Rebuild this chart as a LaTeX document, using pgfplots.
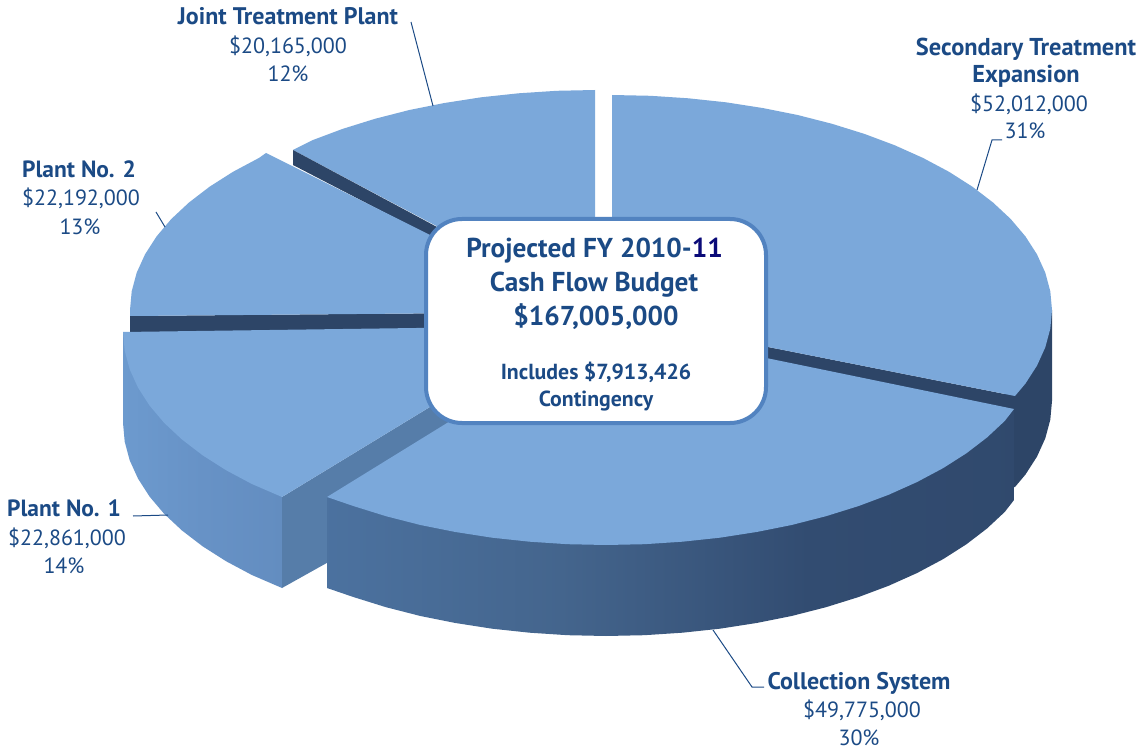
\documentclass[border=0pt]{standalone}
\usepackage{fontspec}
\setmainfont{PT Sans}
\usepackage{pgfplots}
\pgfplotsset{compat=1.18}
\definecolor{topc}{HTML}{7BA8DA}
\definecolor{dark}{HTML}{2D4567}
\definecolor{cutc}{HTML}{567DA9}
\definecolor{txt}{HTML}{1B4A85}
\definecolor{boxb}{HTML}{5283C0}
\definecolor{navy11}{HTML}{0A0A78}
\definecolor{wa}{HTML}{5C88BE}
\definecolor{wb}{HTML}{5079AA}
\definecolor{wc}{HTML}{44658D}
\definecolor{wd}{HTML}{324C71}
\definecolor{pa}{HTML}{72A2D6}
\definecolor{pb}{HTML}{6792C6}
\definecolor{pc}{HTML}{5F88BA}
\pgfdeclarehorizontalshading{wallC}{100bp}{color(0bp)=(wa);color(15bp)=(wb);color(42bp)=(wc);color(60bp)=(wd);color(100bp)=(dark)}
\pgfdeclarehorizontalshading{wallP}{100bp}{color(0bp)=(pa);color(50bp)=(pb);color(100bp)=(pc)}
\newcommand{\lab}[4]{\node[anchor=base,text=txt,font=\fontsize{#1}{#1}\selectfont] at (axis cs:#2,#3) {#4};}
\begin{document}
\begin{tikzpicture}
\begin{axis}[
  width=1146pt,height=751pt,scale only axis,
  xmin=0,xmax=1146,ymin=0,ymax=751,y dir=reverse,
  axis lines=none,clip=false,no markers]
\path (axis cs:0,0) rectangle (axis cs:1146,751);
% Joint Treatment Plant
\addplot[fill=topc,draw=none] coordinates {(293,150)(312.2,140.3)(342.6,128.9)(375,118.8)(409,110.1)(444.5,103)(481.1,97.3)(518.6,93.3)(556.7,90.8)(595,90)(595,310)} -- cycle;
\addplot[fill=dark,draw=none] coordinates {(293,150)(480,250)(480,262)(293,165)} -- cycle;
% Plant No. 2
\addplot[fill=dark,draw=none] coordinates {(130,316)(470,313)(470,328)(130,333)} -- cycle;
\addplot[fill=topc,draw=none] coordinates {(130,316)(130,310)(131.7,291.3)(136.7,272.7)(145,254.4)(156.5,236.5)(171.2,219.1)(189,202.5)(209.6,186.7)(233,171.8)(258.9,158)(266,153)(470,255)(470,313)} -- cycle;
% Plant No. 1
\addplot[shade,shading=wallP,draw=none] coordinates {(123,332)(123,423)(124.7,441.7)(129.7,460.3)(138,478.6)(149.5,496.5)(164.2,513.9)(182,530.5)(202.6,546.3)(226,561.2)(251.9,575)(282,588)(282,497)} -- cycle;
\addplot[fill=cutc,draw=none] coordinates {(282,497)(282,588)(350,550)(350,495)(600,340)(563,326)} -- cycle;
\addplot[fill=topc,draw=none] coordinates {(123,332)(124.7,350.7)(129.7,369.3)(138,387.6)(149.5,405.5)(164.2,422.9)(182,439.5)(202.6,455.3)(226,470.2)(251.9,484)(282,497)(563,326)} -- cycle;
% Secondary wall and cut
\addplot[fill=dark,draw=none] coordinates {(1052,310)(1052,401)(1050.3,419.7)(1045.3,438.3)(1037,456.6)(1025.5,474.5)(1015,487)(1005,487)(1005,396)} -- cycle;
\addplot[fill=dark,draw=none] coordinates {(612,316)(1015,396)(1015,410)(612,330)} -- cycle;
% Collection System
\addplot[shade,shading=wallC,draw=none] coordinates {(327,497)(327,588)(353.6,597.1)(386,607.2)(420,615.9)(455.5,623)(492.1,628.7)(529.6,632.7)(567.6,635.2)(606,636)(644.4,635.2)(682.4,632.7)(719.9,628.7)(756.5,623)(792,615.9)(826,607.2)(858.4,597.1)(888.8,585.7)(917.1,573)(943,559.2)(966.4,544.3)(987,528.5)(1004.8,511.9)(1014,500)(1014,409)} -- cycle;
\addplot[fill=topc,draw=none] coordinates {(1014,409)(1004.8,420.9)(987,437.5)(966.4,453.3)(943,468.2)(917.1,482)(888.8,494.7)(858.4,506.1)(826,516.2)(792,524.9)(756.5,532)(719.9,537.7)(682.4,541.7)(644.4,544.2)(606,545)(567.6,544.2)(529.6,541.7)(492.1,537.7)(455.5,532)(420,524.9)(386,516.2)(353.6,506.1)(327,497)(606,325)} -- cycle;
% Secondary top
\addplot[fill=topc,draw=none] coordinates {(612,95)(650.4,95.8)(688.4,98.3)(725.9,102.3)(762.5,108)(798,115.1)(832,123.8)(864.4,133.9)(894.8,145.3)(923.1,158)(949,171.8)(972.4,186.7)(993,202.5)(1010.8,219.1)(1025.5,236.5)(1037,254.4)(1045.3,272.7)(1050.3,291.3)(1052,310)(1050.3,328.7)(1045.3,347.3)(1037,365.6)(1025.5,383.5)(1015,396)(612,316)} -- cycle;
% Leader lines
\addplot[txt,line width=1pt] coordinates {(411,22)(433,106)};
\addplot[txt,line width=1pt] coordinates {(1002,140)(992,140)(977,190)};
\addplot[txt,line width=1pt] coordinates {(156,212)(165,227)};
\addplot[txt,line width=1pt] coordinates {(133,516)(168,515)};
\addplot[txt,line width=1pt] coordinates {(713,630)(752,687)(764,687)};
% Centre box
\draw[boxb,line width=4pt,fill=white,rounded corners=36pt] (axis cs:426,219) rectangle (axis cs:766,423);
\lab{27.3}{594.5}{258}{\bfseries Projected FY 2010-{\color{navy11}11}}
\lab{27.3}{594}{292}{\bfseries Cash Flow Budget}
\lab{27.3}{596}{326}{\bfseries \$167,005,000}
\lab{21.8}{596}{379}{\bfseries Includes \$7,913,426}
\lab{21.8}{596}{406}{\bfseries Contingency}
% Labels
\lab{24}{288}{25}{\bfseries Joint Treatment Plant}
\lab{22}{288}{54}{\$20,165,000}
\lab{22}{288}{82}{12\%}
\lab{24.4}{1026}{56}{\bfseries Secondary Treatment}
\lab{24.4}{1026}{83}{\bfseries Expansion}
\lab{22}{1029}{112}{\$52,012,000}
\lab{22}{1025}{139}{31\%}
\lab{23.5}{79}{178}{\bfseries Plant No. 2}
\lab{22}{81}{206}{\$22,192,000}
\lab{22}{80}{235}{13\%}
\lab{23.5}{64}{516}{\bfseries Plant No. 1}
\lab{22}{67}{545}{\$22,861,000}
\lab{22}{64}{573}{14\%}
\lab{24}{859}{689}{\bfseries Collection System}
\lab{22}{862}{717}{\$49,775,000}
\lab{22}{859}{745}{30\%}
\end{axis}
\end{tikzpicture}
\end{document}
